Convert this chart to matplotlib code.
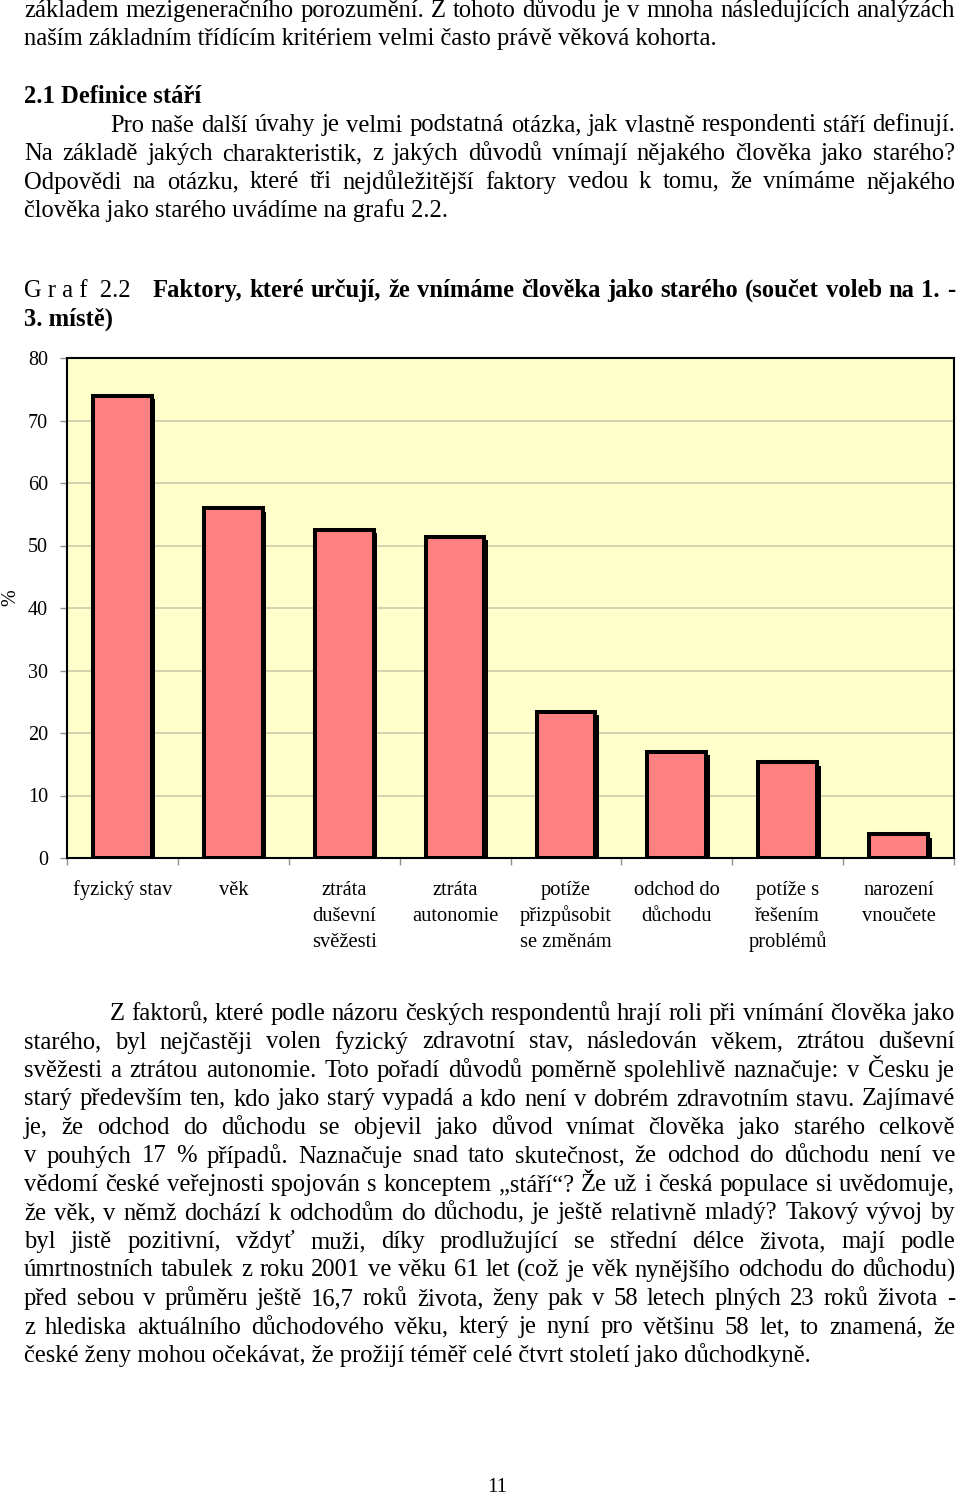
import matplotlib
matplotlib.use('Agg')
import matplotlib.pyplot as plt
import matplotlib.patheffects as pe
import matplotlib.transforms as mtransforms
import numpy as np

# ---------------- data ----------------
categories = ["fyzický stav", "věk", "ztráta\nduševní\nsvěžesti", "ztráta\nautonomie",
              "potíže\npřizpůsobit\nse změnám", "odchod do\ndůchodu",
              "potíže s\nřešením\nproblémů", "narození\nvnoučete"]
values = [74.0, 56.0, 52.5, 51.4, 23.4, 17.0, 15.3, 3.8]
y_ticks = [0, 10, 20, 30, 40, 50, 60, 70, 80]

top_lines = [
    ("základem mezigeneračního porozumění. Z tohoto důvodu je v mnoha následujících analýzách", 24, True),
    ("naším základním třídícím kritériem velmi často právě věková kohorta.", 24, False),
]
heading = "2.1 Definice stáří"
intro_lines = [
    ("Pro naše další úvahy je velmi podstatná otázka, jak vlastně respondenti stáří definují.", 110, True),
    ("Na základě jakých charakteristik, z jakých důvodů vnímají nějakého člověka jako starého?", 24, True),
    ("Odpovědi na otázku, které tři nejdůležitější faktory vedou k tomu, že vnímáme nějakého", 24, True),
    ("člověka jako starého uvádíme na grafu 2.2.", 24, False),
]
graf_label = "G r a f  2.2"
graf_title = ["Faktory, které určují, že vnímáme člověka jako starého (součet voleb na 1. -",
              "3. místě)"]
body_lines = [
    ("Z faktorů, které podle názoru českých respondentů hrají roli při vnímání člověka jako", 110, True),
    ("starého, byl nejčastěji volen fyzický zdravotní stav, následován věkem, ztrátou duševní", 24, True),
    ("svěžesti a ztrátou autonomie. Toto pořadí důvodů poměrně spolehlivě naznačuje: v Česku je", 24, True),
    ("starý především ten, kdo jako starý vypadá a kdo není v dobrém zdravotním stavu. Zajímavé", 24, True),
    ("je, že odchod do důchodu se objevil jako důvod vnímat člověka jako starého celkově", 24, True),
    ("v pouhých 17 % případů. Naznačuje snad tato skutečnost, že odchod do důchodu není ve", 24, True),
    ("vědomí české veřejnosti spojován s konceptem „stáří“? Že už i česká populace si uvědomuje,", 24, True),
    ("že věk, v němž dochází k odchodům do důchodu, je ještě relativně mladý? Takový vývoj by", 24, True),
    ("byl jistě pozitivní, vždyť muži, díky prodlužující se střední délce života, mají podle", 24, True),
    ("úmrtnostních tabulek z roku 2001 ve věku 61 let  (což je věk nynějšího odchodu do důchodu)", 24, True),
    ("před sebou v průměru ještě 16,7 roků života, ženy pak v 58 letech plných 23 roků života -", 24, True),
    ("z hlediska aktuálního důchodového věku, který je nyní pro většinu 58 let, to znamená, že", 24, True),
    ("české ženy mohou očekávat, že prožijí téměř celé čtvrt století jako důchodkyně.", 24, False),
]
page_number = "11"

# ---------------- figure ----------------
W, H = 960, 1497
FONT = 'Liberation Serif'
plt.rcParams['font.family'] = [FONT, 'DejaVu Serif']
fig = plt.figure(figsize=(W / 100, H / 100), dpi=100)
fig.patch.set_facecolor('white')
renderer = fig.canvas.get_renderer()


def fx(px):
    return px / W


def fy(py):
    return 1 - py / H


def measure(s, size, weight='normal'):
    t = fig.text(0, 0, s, fontsize=size, weight=weight)
    w = t.get_window_extent(renderer).width
    t.remove()
    return w


RIGHT = 955


def put_line(s, x0, base, size, justify=False, weight='normal'):
    if not justify:
        fig.text(fx(x0), fy(base), s, fontsize=size, weight=weight,
                 ha='left', va='baseline', color='black')
        return
    words = s.split()
    widths = [measure(w, size, weight) for w in words]
    gap = (RIGHT - x0 - sum(widths)) / max(len(words) - 1, 1)
    x = x0
    for w, wd in zip(words, widths):
        fig.text(fx(x), fy(base), w, fontsize=size, weight=weight,
                 ha='left', va='baseline', color='black')
        x += wd + gap


# body font size fitted to the non-justified last line width (24 -> 811 px)
BODY = 10 * (811 - 24) / measure(body_lines[-1][0], 10)
LS = 28.5

# top text
for i, (s, x0, j) in enumerate(top_lines):
    put_line(s, x0, 17 + i * LS, BODY, j)
put_line(heading, 24, 103, BODY, False, weight='bold')
for i, (s, x0, j) in enumerate(intro_lines):
    put_line(s, x0, 131.5 + i * LS, BODY, j)

# graph title
put_line(graf_label, 24, 297, BODY, False)
put_line(graf_title[0], 153, 297, BODY, True, weight='bold')
put_line(graf_title[1], 24, 325.5, BODY, False, weight='bold')

# body text
for i, (s, x0, j) in enumerate(body_lines):
    put_line(s, x0, 1020 + i * LS, BODY, j)

fig.text(fx(497), fy(1487), page_number, fontsize=BODY * 0.85, ha='center', va='center')

# ---------------- chart ----------------
ax = fig.add_axes([fx(67), fy(858), (954 - 67) / W, 500 / H])
ax.set_facecolor('#FFFFCC')
x = np.arange(len(categories))
bars = ax.bar(x, values, width=0.53, color='#FF8080', edgecolor='black',
              linewidth=2.9, zorder=3)
for b in bars:
    b.set_path_effects([pe.SimplePatchShadow(offset=(2.6, -2.6), shadow_rgbFace='black', alpha=1),
                        pe.Normal()])

ax.set_xlim(-0.5, len(categories) - 0.5)
ax.set_ylim(0, 80)
ax.set_yticks(y_ticks)
ax.yaxis.grid(True, color='#C8C8A8', linewidth=1.1)
ax.set_axisbelow(True)
ax.tick_params(axis='y', length=5, width=1, color='#909090', pad=8.6, labelsize=14.5)
ax.set_xticks(x)
ax.tick_params(axis='x', which='major', length=0, labelbottom=False)
ax.set_xticks(np.arange(-0.5, len(categories), 1.0), minor=True)
ax.tick_params(axis='x', which='minor', length=5, width=1, color='#909090')
for sp in ax.spines.values():
    sp.set_color('black')
    sp.set_linewidth(1.5)

trans = mtransforms.blended_transform_factory(ax.transData, fig.transFigure)
for i, cat in enumerate(categories):
    for j, part in enumerate(cat.split('\n')):
        ax.text(i, fy(895 + 26 * j), part, transform=trans, ha='center', va='baseline',
                fontsize=14.8, clip_on=False)

fig.text(fx(11), fy(598), '%', rotation=90, ha='center', va='center', fontsize=14.5)

fig.savefig('out.png', dpi=100)
